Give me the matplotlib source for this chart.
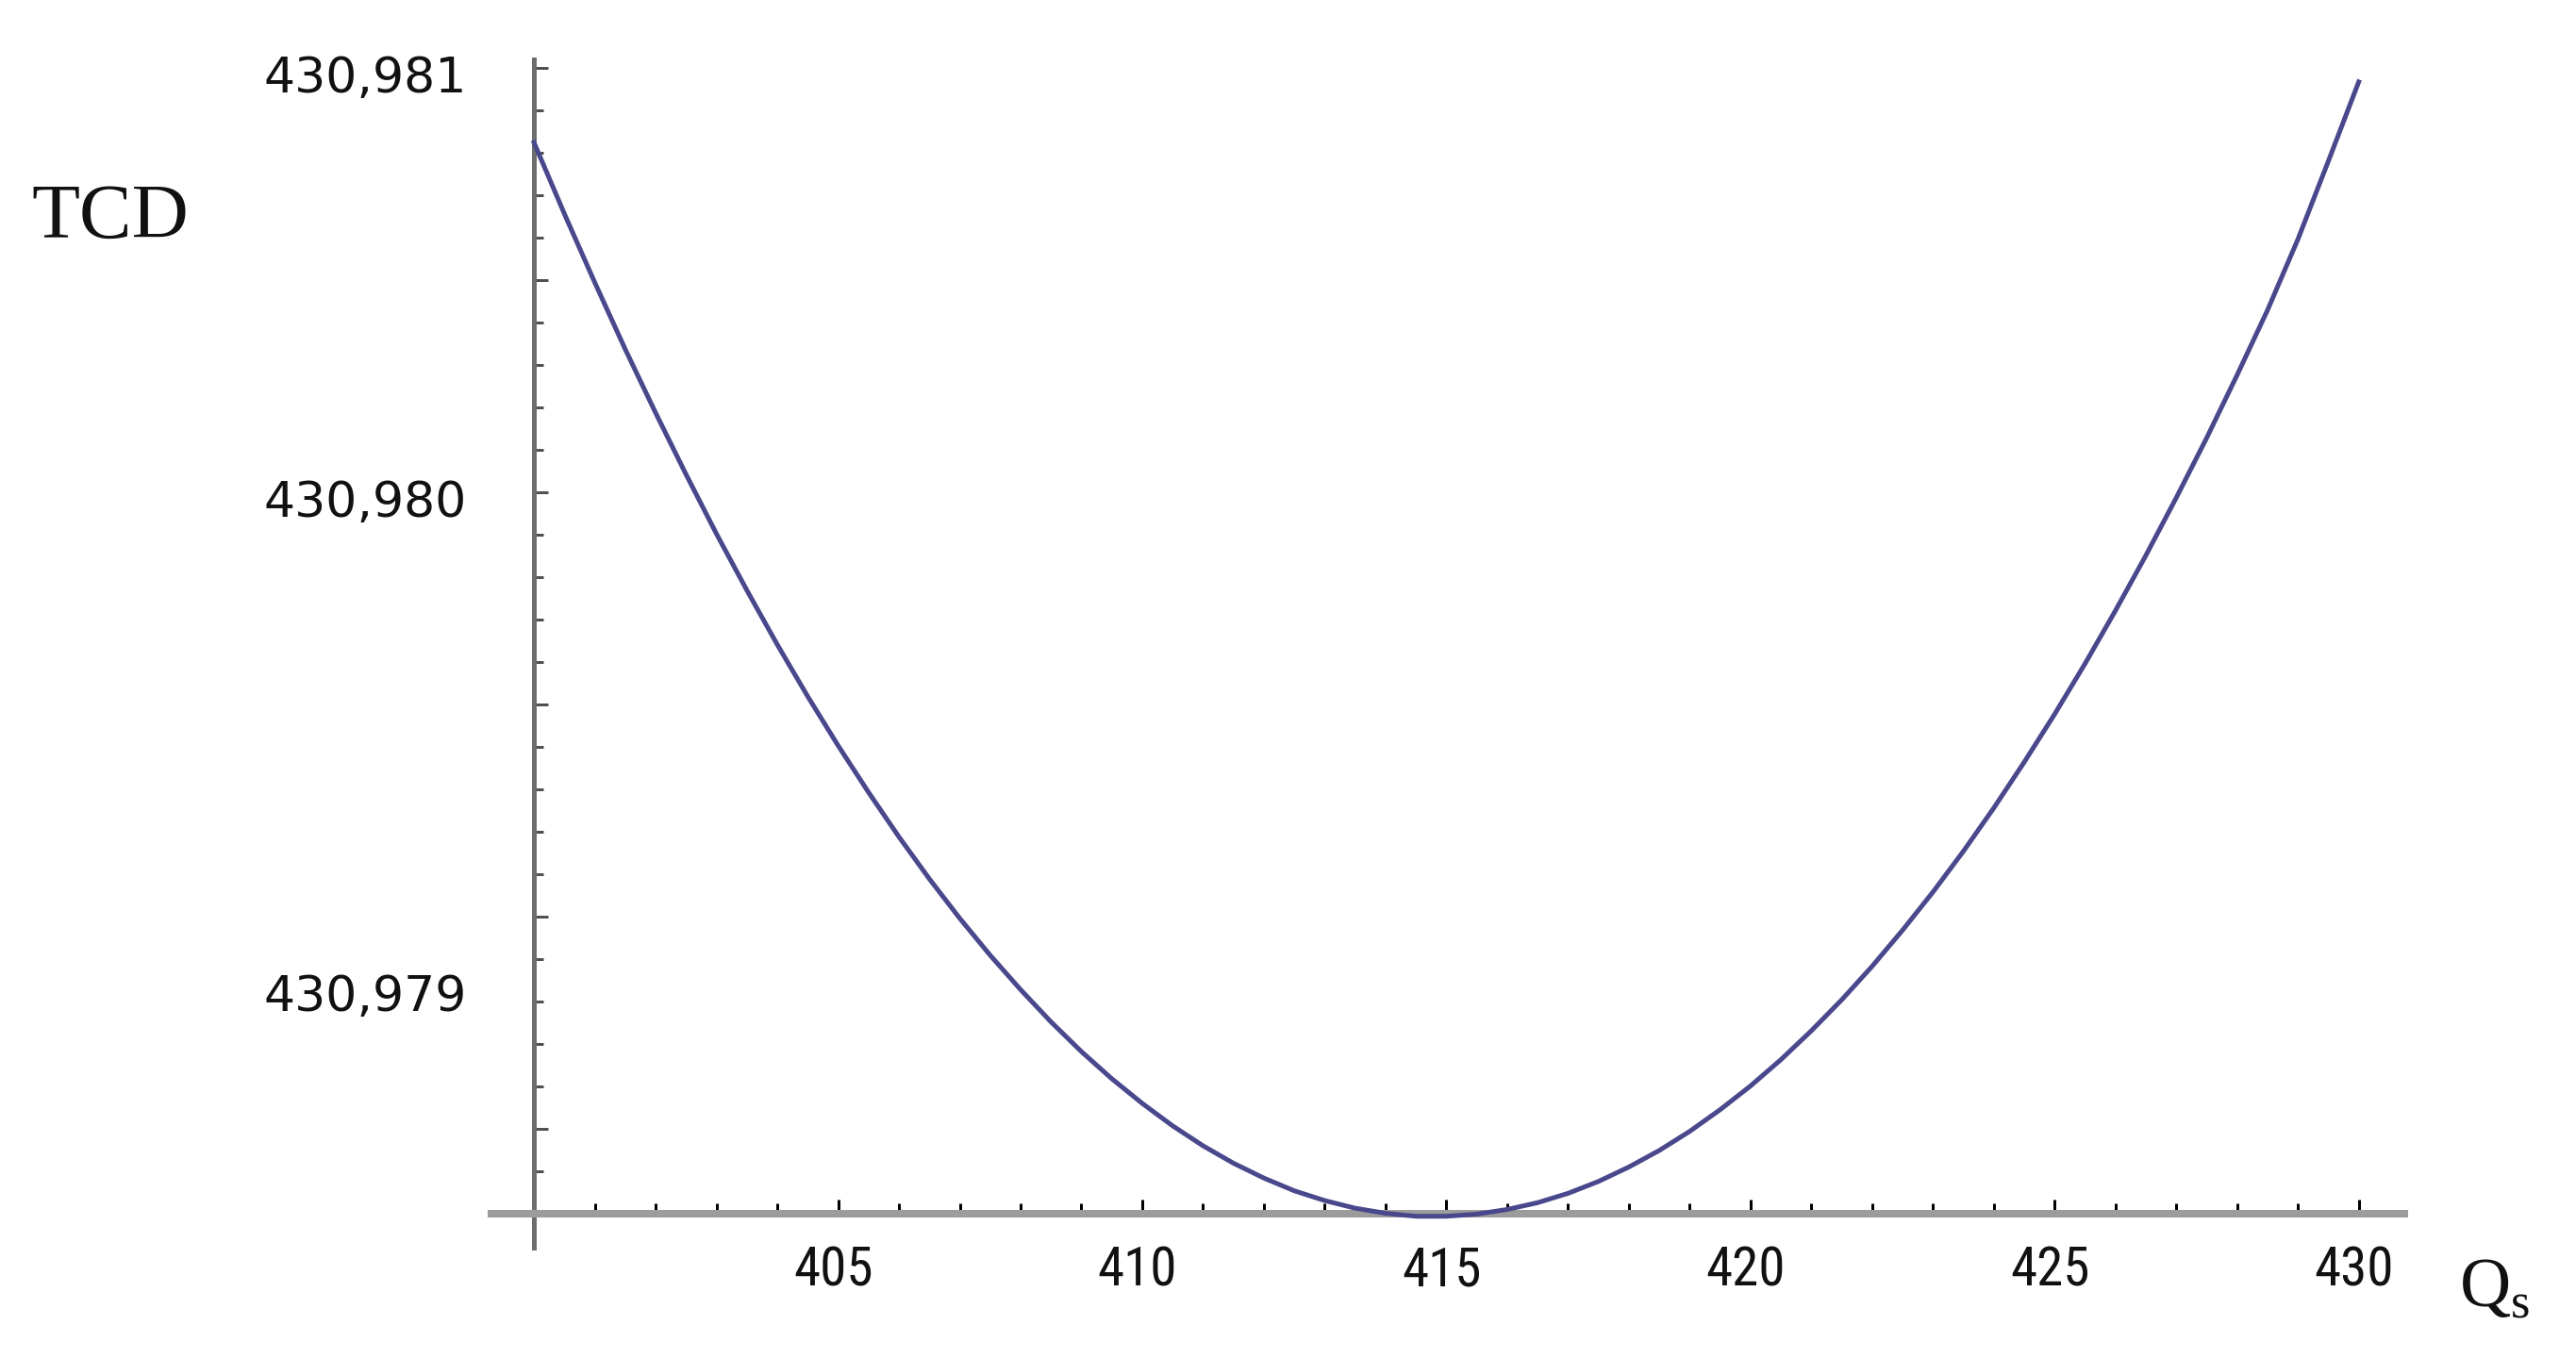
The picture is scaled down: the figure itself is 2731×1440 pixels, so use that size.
import matplotlib
matplotlib.use('Agg')
import matplotlib.pyplot as plt
from matplotlib.ticker import FixedLocator, FixedFormatter
from matplotlib.transforms import ScaledTranslation

# ---- data ----
q_values = [400.0, 400.5, 401.0, 401.5, 402.0, 402.5, 403.0, 403.5, 404.0, 404.5,
            405.0, 405.5, 406.0, 406.5, 407.0, 407.5, 408.0, 408.5, 409.0, 409.5,
            410.0, 410.5, 411.0, 411.5, 412.0, 412.5, 413.0, 413.5, 414.0, 414.5,
            415.0, 415.5, 416.0, 416.5, 417.0, 417.5, 418.0, 418.5, 419.0, 419.5,
            420.0, 420.5, 421.0, 421.5, 422.0, 422.5, 423.0, 423.5, 424.0, 424.5,
            425.0, 425.5, 426.0, 426.5, 427.0, 427.5, 428.0, 428.5, 429.0, 429.5,
            430.0]
tcd_values = [430.980824, 430.980656, 430.980494, 430.980337, 430.980187,
              430.980042, 430.979902, 430.979769, 430.979641, 430.979519,
              430.979403, 430.979293, 430.979188, 430.979089, 430.978996,
              430.978909, 430.978828, 430.978752, 430.978682, 430.978618,
              430.978560, 430.978507, 430.978460, 430.978419, 430.978384,
              430.978354, 430.978331, 430.978313, 430.978301, 430.978294,
              430.978294, 430.978299, 430.978310, 430.978326, 430.978348,
              430.978376, 430.978410, 430.978449, 430.978494, 430.978545,
              430.978601, 430.978663, 430.978731, 430.978804, 430.978883,
              430.978968, 430.979058, 430.979154, 430.979256, 430.979364,
              430.979477, 430.979596, 430.979721, 430.979851, 430.979987,
              430.980128, 430.980276, 430.980429, 430.980596, 430.980780,
              430.980967]
x_major_ticks = [405, 410, 415, 420, 425, 430]
x_tick_labels = ['405', '410', '415', '420', '425', '430']
x_minor_ticks = list(range(401, 431))
y_major_ticks = [430.9785, 430.9790, 430.9795, 430.9800, 430.9805, 430.9810]
y_tick_labels = ['', '', '', '430,980', '', '430,981']
y_minor_ticks = [430.9783 + 0.0001 * i for i in range(28)]
y_shifted_value = 430.979
y_shifted_label = '430,979'
x_label = r'$\mathrm{Q}_{\mathrm{s}}$'
y_label = 'TCD'

plt.rcParams['mathtext.fontset'] = 'custom'
plt.rcParams['mathtext.rm'] = 'Liberation Serif'

W, H, DPI = 2731, 1440, 100
PX = 72.0 / DPI  # points per pixel

fig = plt.figure(figsize=(W / DPI, H / DPI), dpi=DPI, facecolor='white')
ax = fig.add_axes([521 / W, (H - 1323) / H, (2549 - 521) / W, 1260 / H])
ax.set_xlim(399.3, 430.75)
ax.set_ylim(430.97822, 430.98102)

for s in ('top', 'right'):
    ax.spines[s].set_visible(False)
ax.spines['left'].set_position(('data', 400))
ax.spines['bottom'].set_position(('data', 430.9783))
ax.spines['left'].set_color('#6e6e6e')
ax.spines['left'].set_linewidth(5 * PX)
ax.spines['bottom'].set_color('#9c9c9c')
ax.spines['bottom'].set_linewidth(8 * PX)

ax.plot(q_values, tcd_values, color='#4a488c', lw=5 * PX, zorder=5,
        clip_on=False, solid_joinstyle='round')

# x ticks
ax.xaxis.set_major_locator(FixedLocator(x_major_ticks))
ax.xaxis.set_major_formatter(FixedFormatter(x_tick_labels))
ax.xaxis.set_minor_locator(FixedLocator(x_minor_ticks))
ax.tick_params(axis='x', which='major', direction='in', length=15 * PX,
               width=3 * PX, color='black', pad=34 * PX, labelsize=41,
               labelcolor='#111111')
ax.tick_params(axis='x', which='minor', direction='in', length=11 * PX,
               width=3 * PX, color='black')
narrow_families = ['Liberation Sans Narrow', 'DejaVu Sans Condensed',
                   'Roboto Condensed', 'Noto Sans', 'DejaVu Sans']
shift_left = ScaledTranslation(-5 / DPI, 0, fig.dpi_scale_trans)
for lab in ax.get_xticklabels():
    lab.set_family(narrow_families)
    lab.set_fontstretch('condensed')
    lab.set_transform(lab.get_transform() + shift_left)

# y ticks
ax.yaxis.set_major_locator(FixedLocator(y_major_ticks))
ax.yaxis.set_major_formatter(FixedFormatter(y_tick_labels))
ax.yaxis.set_minor_locator(FixedLocator(y_minor_ticks))
ax.tick_params(axis='y', which='major', direction='in', length=15 * PX,
               width=3 * PX, color='#505050', pad=71 * PX, labelsize=37.5,
               labelfontfamily='DejaVu Sans', labelcolor='#111111')
ax.tick_params(axis='y', which='minor', direction='in', length=10 * PX,
               width=3 * PX, color='#505050')
shift_down = ScaledTranslation(0, -6 / DPI, fig.dpi_scale_trans)
for lab in ax.get_yticklabels():
    lab.set_transform(lab.get_transform() + shift_down)

ax.annotate(y_shifted_label, xy=(400, y_shifted_value), xycoords='data',
            xytext=(-71 * PX, -81 * PX), textcoords='offset points',
            ha='right', va='center_baseline', fontsize=37.5,
            family='DejaVu Sans', color='#111111')

fig.text(33 / W, 1 - 252 / H, y_label, family='Liberation Serif',
         fontsize=60, ha='left', va='baseline', color='#111111')
fig.text(2607 / W, 1 - 1385 / H, x_label, fontsize=54, ha='left',
         va='baseline', color='#111111')

fig.savefig('out.png', dpi=DPI, facecolor='white')
